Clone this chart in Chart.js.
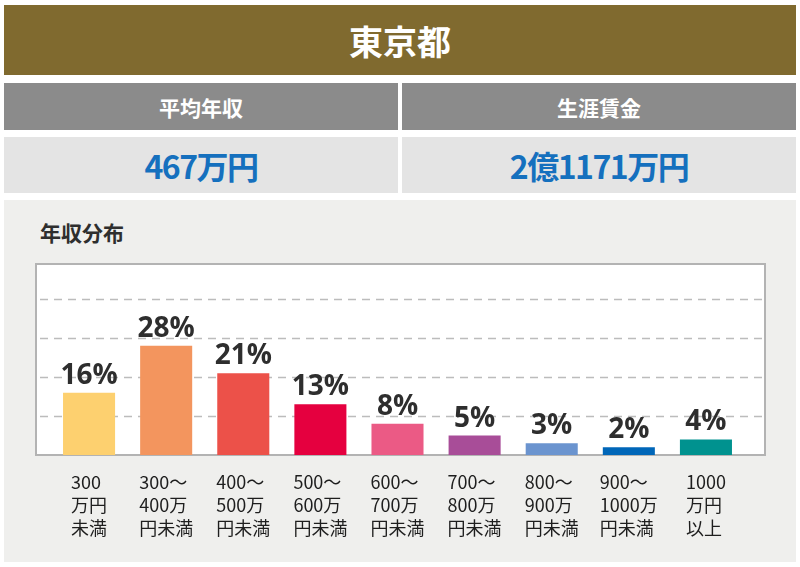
<!DOCTYPE html>
<html>
<head>
<meta charset="utf-8">
<script src="https://cdn.jsdelivr.net/npm/chart.js@4"></script>
<style>
  body { margin: 0; width: 800px; height: 567px; background: #fff; position: relative; overflow: hidden;
         font-family: "Noto Sans CJK JP", sans-serif; }
  .box { position: absolute; display: flex; align-items: center; justify-content: center; font-weight: 700; }
  #title { left: 4px; top: 5px; width: 792px; height: 70px; background: #806a2f; color: #fff; font-size: 34px; }
  .head { top: 83px; height: 47px; background: #8b8b8b; color: #fff; font-size: 21px; }
  .val { top: 137px; height: 56px; background: #e4e4e4; color: #1570be; font-size: 32px; letter-spacing: -1.5px; }
  #panel { position: absolute; left: 4px; top: 200px; width: 792px; height: 362px; background: #efefed; }
  #sub { position: absolute; left: 40px; top: 217px; font-size: 21px; font-weight: 700; color: #2e2e2e; }
  #wrap { position: absolute; left: 4px; top: 200px; width: 792px; height: 362px; }
</style>
</head>
<body>
<div id="title" class="box">東京都</div>
<div class="box head" style="left:4px;width:394px;">平均年収</div>
<div class="box head" style="left:402px;width:394px;">生涯賃金</div>
<div class="box val" style="left:4px;width:394px;">467万円</div>
<div class="box val" style="left:402px;width:394px;">2億1171万円</div>
<div id="panel"></div>
<div id="sub">年収分布</div>
<div id="wrap"><canvas id="chart" width="792" height="362"></canvas></div>
<script>
// 年収分布 (%)
const categories = [
    ['300', '万円', '未満'],
    ['300～', '400万', '円未満'],
    ['400～', '500万', '円未満'],
    ['500～', '600万', '円未満'],
    ['600～', '700万', '円未満'],
    ['700～', '800万', '円未満'],
    ['800～', '900万', '円未満'],
    ['900～', '1000万', '円未満'],
    ['1000', '万円', '以上']
];
const shares = [16, 28, 21, 13, 8, 5, 3, 2, 4];
const gridValues = [10, 20, 30, 40];
const barColors = ['#fdd06f', '#f3955e', '#ec5149', '#e5003f', '#eb5a85', '#a84d98', '#6b94cf', '#0066b8', '#00928f'];

// white plot box with dashed grid, wider than the category area
const boxPlugin = {
    id: 'boxPlugin',
    beforeDatasetsDraw(chart) {
        const { ctx, chartArea, scales } = chart;
        const left = chartArea.left - 14.5;
        const right = chartArea.right + 20.5;
        ctx.save();
        ctx.fillStyle = '#fff';
        ctx.fillRect(left, chartArea.top, right - left, chartArea.bottom - chartArea.top);
        ctx.strokeStyle = '#bcbcbc';
        ctx.lineWidth = 1.5;
        ctx.setLineDash([8, 6]);
        gridValues.forEach(v => {
            const y = Math.round(scales.y.getPixelForValue(v)) + 0.5;
            ctx.beginPath();
            ctx.moveTo(left + 4, y);
            ctx.lineTo(right, y);
            ctx.stroke();
        });
        ctx.setLineDash([]);
        ctx.strokeStyle = '#b3b3b3';
        ctx.lineWidth = 2;
        ctx.strokeRect(left, chartArea.top, right - left, chartArea.bottom - chartArea.top);
        ctx.restore();
    },
    afterDatasetsDraw(chart) {
        const { ctx, scales, chartArea } = chart;
        const bars = chart.getDatasetMeta(0).data;
        ctx.save();
        // value labels
        ctx.fillStyle = '#2e2e2e';
        ctx.font = '700 28px "Open Sans", sans-serif';
        ctx.textAlign = 'center';
        ctx.textBaseline = 'alphabetic';
        bars.forEach((bar, i) => {
            ctx.fillText(shares[i] + '%', bar.x, bar.y - 9);
        });
        // category labels, lines left aligned inside a centred block
        ctx.fillStyle = '#1e1e1e';
        ctx.font = '18px "Noto Sans CJK JP", sans-serif';
        ctx.textAlign = 'left';
        categories.forEach((lines, i) => {
            const cx = scales.x.getPixelForValue(i);
            const w = Math.max(...lines.map(l => ctx.measureText(l).width));
            lines.forEach((line, j) => {
                ctx.fillText(line, cx - w / 2, chartArea.bottom + 34 + j * 23);
            });
        });
        ctx.restore();
    }
};

new Chart(document.getElementById('chart'), {
    type: 'bar',
    data: {
        labels: categories,
        datasets: [{
            data: shares,
            backgroundColor: barColors,
            borderWidth: 0,
            barPercentage: 0.675,
            categoryPercentage: 1
        }]
    },
    options: {
        responsive: false,
        animation: false,
        layout: { padding: { left: 46.5, right: 51.5, top: 64, bottom: 107 } },
        scales: {
            x: { display: false },
            y: { display: false, min: 0, max: 49 }
        },
        plugins: { legend: { display: false }, tooltip: { enabled: false } }
    },
    plugins: [boxPlugin]
});
</script>
</body>
</html>
